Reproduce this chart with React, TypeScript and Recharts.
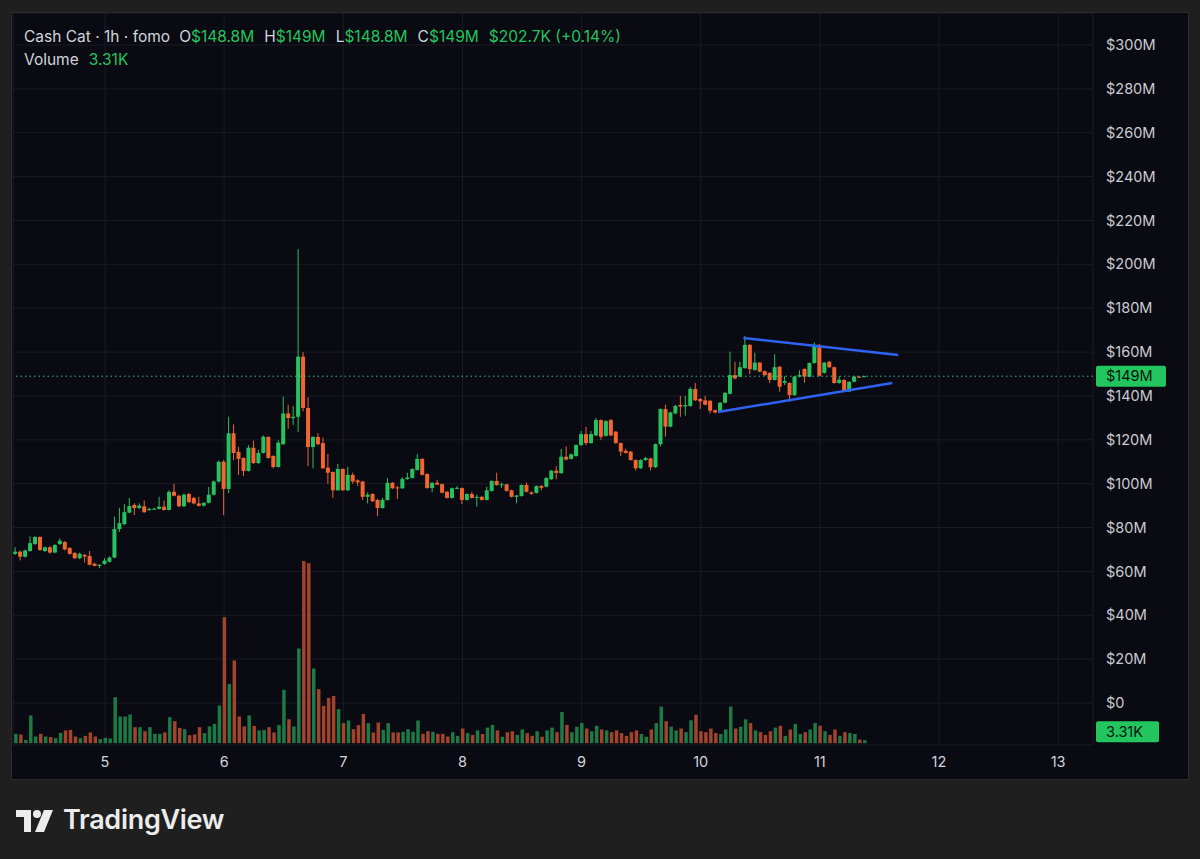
import {
  ComposedChart,
  Bar,
  Cell,
  XAxis,
  YAxis,
  CartesianGrid,
  ReferenceLine
} from 'recharts';

const UP = '#26c25f';
const DOWN = '#f2652f';
const VOL_UP = '#1d7a46';
const VOL_DOWN = '#a1442b';
const TAG = '#22c55e';

// hourly candles, first one is day 4 06:00 (values in $M)
const opens = [
  68, 69, 66.7, 69.3, 72.5, 75.7, 69.3, 71, 68.6, 72.5,
  73.4, 70.7, 68.4, 66, 67.5, 67, 63.5, 62.5, 63.4, 64.4,
  66.3, 79.3, 81.6, 86.8, 90.3, 88.9, 89.7, 88, 88.3, 88.5,
  89.5, 88, 96.3, 94.5, 89.7, 95.3, 93.5, 91, 90, 91.3,
  95, 101, 110, 97.6, 123, 114.5, 111.7, 105.8, 116.4, 109.4,
  114, 121.3, 112.6, 107.6, 118, 132, 129.9, 130.5, 157.9, 134.5,
  116.7, 121.3, 118.5, 107.3, 105.3, 97, 106.7, 97, 104, 101.5,
  101, 94, 95.3, 92.6, 88.9, 92.6, 100.4, 98.3, 97.9, 102.1,
  102.6, 106.2, 111.3, 104.4, 98, 100.4, 99.8, 96.3, 93.5, 97.9,
  98, 92.6, 95.3, 93.5, 94, 92.6, 96.7, 101.2, 99.4, 99.7,
  97, 94, 94.4, 99.4, 96, 95.8, 99, 98.6, 102, 105.9,
  104.8, 112.3, 111.3, 112.6, 117.6, 122.6, 118.5, 122, 129, 121.8,
  129, 123.7, 118.5, 115, 114.6, 110.8, 107, 110.8, 111.5, 107.5,
  118, 134, 126, 132, 135.9, 135.2, 135.4, 143.2, 138.6, 138,
  137.8, 133.5, 132.9, 136.9, 141, 149.5, 148.8, 152.7, 163.3, 151.8,
  155.2, 151.3, 150.5, 147.3, 153.3, 146, 145.9, 140.4, 148.8, 152.3,
  148.8, 155, 163.3, 150.5, 155.6, 153.1, 145.9, 147.3, 142, 146.5,
  148.8, 148.8
];

const highs = [
  71, 69.5, 70, 76, 76, 76, 71.3, 71.5, 72.4, 75,
  73.8, 71, 68.8, 68.6, 68, 69.3, 64, 63.3, 66, 66.8,
  85, 89, 90.7, 93.5, 91, 91, 92.3, 89, 89, 94,
  92.3, 97, 100, 95, 95.5, 95.8, 94, 94, 91.6, 98.5,
  101.5, 110.5, 110.8, 130.5, 127, 116.7, 112, 117.5, 119.6, 115.5,
  122, 121.6, 113, 119.8, 139.7, 136, 135.4, 206.9, 160, 139.5,
  121.6, 123, 121, 113.5, 105.6, 109, 107, 107.7, 105, 102,
  101.3, 96, 95.6, 93, 93.5, 102.6, 100.7, 99, 103, 105,
  107, 113.5, 111.6, 104.7, 100.7, 101.8, 100.1, 96.6, 98.2, 98.8,
  98.3, 95.6, 96.3, 95, 94.3, 98.6, 101.5, 105, 100.5, 100,
  97.3, 94.9, 99.7, 100.5, 96.5, 99.2, 99.3, 102.9, 106.2, 108,
  115.8, 117, 113.7, 117.9, 124, 126, 124, 130, 129.3, 129,
  129.5, 124, 118.8, 116, 114.9, 111.1, 111.1, 112.3, 111.8, 118.3,
  134.3, 136, 132.8, 136, 140, 140, 144, 145.9, 139, 140,
  138.1, 133.8, 137.2, 141.7, 160.2, 155.6, 155.6, 167.3, 163.6, 159.7,
  155.5, 151.6, 150.8, 159, 153.6, 149, 146.2, 149.1, 151.7, 152.6,
  155.3, 164.3, 163.6, 155.5, 156, 153.4, 149, 147.6, 146.7, 149.1,
  149.1, 149.2
];

const lows = [
  67.5, 65, 66.3, 69, 72, 69.3, 68.8, 68, 68.3, 72,
  69.6, 67.6, 65.7, 65.6, 64, 62.8, 62.3, 61.5, 63, 64,
  66, 78, 81, 86.5, 85.7, 88.5, 86.7, 87.6, 88, 88.2,
  87.8, 87.8, 94.2, 89.3, 89.3, 91.2, 90.6, 89.6, 89.6, 91,
  94.6, 100.5, 85.7, 95.7, 110.8, 104, 103.5, 105.5, 109, 109,
  113.7, 111.4, 107, 107.3, 117.7, 125, 126.8, 123.6, 133, 108,
  107, 117.5, 106.7, 100, 93.5, 96.7, 96.7, 96.7, 100, 99,
  92.6, 91, 91.7, 85.3, 88.6, 92.3, 97.6, 93, 97.6, 101.8,
  102.3, 106, 103.7, 97.7, 96, 99.3, 95.6, 93.2, 93.2, 97.5,
  90.7, 92.3, 93.2, 89.5, 92.3, 92.3, 96.4, 99.1, 98, 96.4,
  93.7, 91, 94.1, 96, 95, 95.5, 97, 98.3, 101.7, 102,
  104.5, 110.6, 111, 112.3, 117.3, 117.6, 118.2, 121.7, 120, 121.5,
  121.7, 118.2, 112.6, 113.7, 110.5, 106, 106.7, 110.5, 106, 107.2,
  117, 121.4, 125.7, 131.7, 130.5, 131, 135.1, 137.7, 134, 135.7,
  132, 132, 132.6, 136.6, 140.7, 147.5, 148.5, 152.4, 150, 151.5,
  150.8, 149.2, 145.9, 147, 142, 145, 137.4, 140.1, 148.5, 146,
  148.5, 154.7, 148.8, 150.2, 152.8, 145.6, 145.6, 141.7, 141.7, 146.2,
  148.2, 148.6
];

const closes = [
  69, 66.7, 69.5, 72.9, 75.7, 69.8, 71, 68.6, 72, 74,
  70, 68, 66, 68, 66.8, 63, 62.5, 63, 64.9, 66.3,
  79.3, 82, 87, 89.8, 88.9, 90, 87, 88.5, 88.6, 89.5,
  88, 96.3, 94.5, 89.7, 95, 91.6, 91, 89.9, 91.2, 95,
  101, 110, 97.6, 123, 114, 111.3, 105.8, 116.4, 109.4, 114,
  121.4, 111.7, 107.6, 118.7, 132, 129.9, 130.5, 157.9, 134.5, 116.7,
  121.3, 118, 107, 105, 97, 106.7, 97, 104, 101, 100.6,
  94, 95, 92, 88.9, 92.6, 100.4, 97.9, 97.9, 102.1, 102.8,
  106.7, 111.3, 104, 98, 100.4, 99.6, 95.9, 93.5, 97.9, 98.1,
  92.6, 95.3, 93.5, 94, 92.6, 97, 101.2, 99.4, 99.7, 96.7,
  94, 94.6, 99.4, 96.3, 95.3, 98.9, 98.1, 102.6, 105.9, 104.9,
  112.3, 111, 113.4, 117.6, 122.6, 118.5, 122.6, 129, 121.4, 128.5,
  122, 118.5, 114.6, 114, 110.8, 107, 110.8, 111.7, 107.5, 118,
  134, 126, 132.5, 135.4, 135.2, 135.8, 143.2, 138, 137.5, 136,
  133.3, 132.5, 136.9, 141.4, 149.5, 148, 153.1, 163.3, 152.2, 155.2,
  151.1, 149.5, 147.3, 153.1, 144.2, 146.8, 140.4, 148.8, 149.5, 148.8,
  155, 163.3, 149.2, 155.2, 153.1, 145.9, 147.4, 142, 146.4, 148.8,
  148.5, 149
];

// volume per candle, in K
const volumes = [
  10.2, 9.5, 3.6, 30.3, 7.3, 10.2, 7.3, 6.6, 5.5, 11.3,
  13.9, 14.5, 7.3, 5.5, 8, 11.7, 7.3, 4.4, 5.8, 5.1,
  50.3, 29.2, 29.2, 31.4, 17.5, 17.5, 13.1, 17.5, 10.2, 10.2,
  11.7, 28.4, 24, 16.7, 15.3, 8.7, 9.5, 17.5, 10.9, 18.3,
  21.1, 41.2, 137.7, 64.8, 90.4, 29.2, 18.3, 30.3, 18.9, 13.9,
  14.5, 17.5, 11.7, 19.7, 58.3, 26.2, 18.3, 103.5, 199, 196.7,
  81.6, 59, 40.8, 49.5, 51.7, 37.2, 21.9, 24.8, 15.3, 19.7,
  32, 21.9, 11.7, 22.6, 14.5, 21.9, 11.7, 11.7, 12.4, 15.3,
  12.4, 24.8, 10.2, 13.1, 12.4, 10.2, 10.2, 7.3, 12, 8,
  16, 11, 9, 14, 10, 17, 20, 14, 7, 12,
  13, 9, 15, 11, 8, 13, 7, 14, 17, 12,
  34, 20, 12, 18, 22, 16, 13, 19, 15, 14,
  12, 14, 11, 8, 12, 14, 10, 7, 15, 22,
  40, 24, 18, 14, 16, 12, 25, 31, 13, 12,
  16, 11, 10, 15, 40, 16, 18, 26, 22, 14,
  12, 9, 13, 17, 19, 8, 15, 21, 10, 12,
  15, 22, 19, 13, 9, 15, 8, 12, 11, 10,
  4, 3.31
];

// candle index of each day's midnight
const dayTicks = [18, 42, 66, 90, 114, 138, 162, 186, 210];
const dayLabels = ['5', '6', '7', '8', '9', '10', '11', '12', '13'];
const priceTicks = [0, 20, 40, 60, 80, 100, 120, 140, 160, 180, 200, 220, 240, 260, 280, 300];

const lastPrice = 149;
const lastVolume = 3.31;

// triangle drawn on the chart (candle index, $M)
const upperTrend = [
  { x: 146.6, y: 166.4 },
  { x: 177.8, y: 158.7 }
];
const lowerTrend = [
  { x: 141.5, y: 132.7 },
  { x: 176.6, y: 145.9 }
];

const candles = opens.map((open, i) => ({
  i,
  open,
  high: highs[i],
  low: lows[i],
  close: closes[i],
  vol: volumes[i]
}));

const Candle = (props: any) => {
  const { x, y, width, height, payload } = props;
  if (!payload) return null;
  const { open, close, high, low } = payload;
  const top = Math.min(y, y + height);
  const h = Math.abs(height);
  const span = high - low || 1;
  const py = (v: number) => top + (h * (high - v)) / span;
  const color = close >= open ? UP : DOWN;
  const cx = x + width / 2;
  const bodyTop = py(Math.max(open, close));
  const bodyH = Math.max(1, py(Math.min(open, close)) - bodyTop);
  return (
    <g>
      <line x1={cx} x2={cx} y1={top} y2={top + h} stroke={color} strokeWidth={1} />
      <rect x={x} y={bodyTop} width={width} height={bodyH} fill={color} />
    </g>
  );
};

const Tag = ({ viewBox, text, w, bottom }: any) => {
  if (!viewBox) return null;
  const left = viewBox.x + viewBox.width + 3;
  const top = bottom ? viewBox.y - 19 : viewBox.y - 10.5;
  return (
    <g>
      <rect x={left} y={top} width={w} height={21} rx={2} fill={TAG} />
      <text x={left + 10} y={top + 15.5} fill='#06140b' fontSize={14.5}>
        {text}
      </text>
    </g>
  );
};

const green = { color: TAG };

const App = () => {
  return (
    <div
      style={{
        position: 'absolute',
        left: 0,
        top: 0,
        width: 1200,
        height: 859,
        background: '#1f1f1f',
        fontFamily: 'Inter, "Noto Sans", sans-serif'
      }}
    >
      <div
        style={{
          position: 'absolute',
          left: 12,
          top: 13,
          width: 1176,
          height: 766,
          background: '#0a0a12',
          outline: '1px solid #2a2a2e'
        }}
      >
        <ComposedChart
          width={1176}
          height={766}
          data={candles}
          margin={{ top: 0, right: 0, bottom: 0, left: 1 }}
        >
          <CartesianGrid xAxisId='t' yAxisId='price' stroke='#1b1b25' />
          <XAxis
            xAxisId='t'
            type='number'
            dataKey='i'
            domain={[-0.53, 217.03]}
            allowDataOverflow
            ticks={dayTicks}
            interval={0}
            tickFormatter={(v) => dayLabels[dayTicks.indexOf(v)]}
            axisLine={false}
            tickLine={false}
            tickMargin={6}
            height={34}
            tick={{ fill: '#d1d4dc', fontSize: 14.5 }}
          />
          <XAxis
            xAxisId='v'
            type='number'
            dataKey='i'
            domain={[-0.53, 217.03]}
            allowDataOverflow
            hide
          />
          <YAxis
            yAxisId='price'
            orientation='right'
            domain={[-19.15, 314.6]}
            allowDataOverflow
            ticks={priceTicks}
            interval={0}
            width={95}
            axisLine={false}
            tickLine={false}
            tickSize={6}
            tickMargin={7}
            tickFormatter={(v) => (v === 0 ? '$0' : `$${v}M`)}
            tick={{ fill: '#c9cbd1', fontSize: 14.5 }}
          />
          <YAxis yAxisId='vol' domain={[-2, 798]} allowDataOverflow hide />

          {/* volume at the bottom */}
          <Bar
            xAxisId='v'
            yAxisId='vol'
            dataKey='vol'
            barSize={3.5}
            isAnimationActive={false}
          >
            {candles.map((c, idx) => (
              <Cell key={`v-${idx}`} fill={c.close >= c.open ? VOL_UP : VOL_DOWN} />
            ))}
          </Bar>
          <ReferenceLine
            xAxisId='v'
            yAxisId='vol'
            y={lastVolume}
            stroke='none'
            label={<Tag text='3.31K' w={63} bottom />}
          />

          {/* price candles */}
          <Bar
            xAxisId='t'
            yAxisId='price'
            dataKey={(d: any) => [d.low, d.high]}
            barSize={4}
            shape={<Candle />}
            isAnimationActive={false}
          />
          <ReferenceLine
            xAxisId='t'
            yAxisId='price'
            y={lastPrice}
            stroke='#3cbf8a'
            strokeDasharray='1.5 3'
            label={<Tag text='$149M' w={70} />}
          />
          <ReferenceLine
            xAxisId='t'
            yAxisId='price'
            segment={upperTrend}
            stroke='#2f62f2'
            strokeWidth={2.5}
            ifOverflow='visible'
          />
          <ReferenceLine
            xAxisId='t'
            yAxisId='price'
            segment={lowerTrend}
            stroke='#2f62f2'
            strokeWidth={2.5}
            ifOverflow='visible'
          />
        </ComposedChart>
      </div>

      {/* legend in the top left */}
      <div
        style={{
          position: 'absolute',
          left: 24,
          top: 27,
          fontSize: 15.5,
          lineHeight: '19px',
          color: '#d1d4dc',
          whiteSpace: 'pre'
        }}
      >
        <div>
          <span>Cash Cat · 1h · fomo</span>
          <span style={{ marginLeft: 9 }}>O</span>
          <span style={green}>$148.8M</span>
          <span style={{ marginLeft: 10 }}>H</span>
          <span style={green}>$149M</span>
          <span style={{ marginLeft: 10 }}>L</span>
          <span style={green}>$148.8M</span>
          <span style={{ marginLeft: 10 }}>C</span>
          <span style={green}>$149M</span>
          <span style={{ ...green, marginLeft: 10 }}>$202.7K (+0.14%)</span>
        </div>
        <div style={{ marginTop: 4 }}>
          <span>Volume</span>
          <span style={{ ...green, marginLeft: 10 }}>3.31K</span>
        </div>
      </div>

      {/* TradingView logo */}
      <svg
        style={{ position: 'absolute', left: 16, top: 808 }}
        width={40}
        height={26}
        viewBox='0 0 40 26'
      >
        <path d='M0 2 H15 V24 H8 V9 H0 Z' fill='#ececec' />
        <circle cx={21} cy={6} r={4} fill='#ececec' />
        <path d='M28 2 H37 L28 24 H19 Z' fill='#ececec' />
      </svg>
      <div
        style={{
          position: 'absolute',
          left: 63,
          top: 803,
          fontSize: 27,
          fontWeight: 600,
          lineHeight: '34px',
          color: '#ececec',
          letterSpacing: -0.3
        }}
      >
        TradingView
      </div>
    </div>
  );
};

export default App;
